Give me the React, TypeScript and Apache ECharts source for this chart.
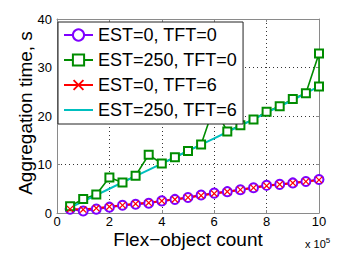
import React, { useEffect, useRef } from "react";
import * as echarts from "echarts";

// x in units of 10^5 flex-objects
const xs = [0.5, 1, 1.5, 2, 2.5, 3, 3.5, 4, 4.5, 5, 5.5, 6, 6.5, 7, 7.5, 8, 8.5, 9, 9.5, 10];
const est0tft0 = [0.8, 0.4, 0.8, 1.2, 1.6, 1.8, 2.0, 2.5, 2.8, 3.2, 3.7, 4.1, 4.4, 4.8, 5.2, 5.7, 5.9, 6.2, 6.5, 6.9];
const est250tft0X = [0.5, 1, 1.5, 2, 2.5, 3, 3.5, 4, 4.5, 5, 5.5, 6, 6.5, 7, 7.5, 8, 8.5, 9, 9.5, 10, 10];
const est250tft0 = [1.4, 2.9, 3.8, 7.3, 6.3, 7.7, 12.0, 10.2, 11.5, 12.8, 14.1, 22.0, 16.8, 18.1, 19.3, 20.9, 22.0, 23.5, 24.7, 32.9, 26.1];
const est0tft6 = [0.8, 0.7, 1.0, 1.3, 1.6, 1.9, 2.1, 2.5, 2.8, 3.2, 3.6, 4.0, 4.4, 4.8, 5.2, 5.6, 5.9, 6.2, 6.5, 6.8];
const est250tft6 = [1.1, 2.4, 3.7, 5.0, 6.3, 7.6, 8.9, 10.2, 11.5, 12.8, 14.1, 15.4, 16.7, 18.0, 19.3, 20.7, 22.0, 23.3, 24.7, 26.1];
const seriesNames = ["EST=0, TFT=0", "EST=250, TFT=0", "EST=0, TFT=6", "EST=250, TFT=6"];
const xTicks = [0, 2, 4, 6, 8, 10];
const yTicks = [0, 10, 20, 30, 40];

const FONT = "'Liberation Sans', Arial, Helvetica, sans-serif";
const FRAME = "#8a8a8a";
const CROSS = "path://M0,1.2L1.2,0L5,3.8L8.8,0L10,1.2L6.2,5L10,8.8L8.8,10L5,6.2L1.2,10L0,8.8L3.8,5Z";

const pairs = (x: number[], y: number[]) => y.map((v, i) => [x[i], v]);

export default function App() {
  const ref = useRef<HTMLDivElement>(null);
  useEffect(() => {
    if (!ref.current) return;
    const chart = echarts.init(ref.current, undefined, { renderer: "svg" });
    const grid = { left: 57, top: 19, width: 262, height: 194 };
    const axisCommon = {
      type: "value" as const,
      axisLine: { show: true, onZero: false, lineStyle: { color: FRAME, width: 1 } },
      axisTick: { show: true, inside: true, length: 3, lineStyle: { color: FRAME } },
    };
    chart.setOption({
      animation: false,
      backgroundColor: "#fff",
      grid,
      xAxis: [
        {
          ...axisCommon,
          min: xTicks[0],
          max: xTicks[xTicks.length - 1],
          interval: 2,
          position: "bottom",
          axisLabel: { color: "#000", fontSize: 13, fontFamily: FONT, margin: 2 },
          splitLine: { show: true, lineStyle: { color: "#333", type: [1, 3], width: 1 } },
        },
        {
          ...axisCommon,
          min: xTicks[0],
          max: xTicks[xTicks.length - 1],
          interval: 2,
          position: "top",
          axisLabel: { show: false },
          splitLine: { show: false },
        },
      ],
      yAxis: [
        {
          ...axisCommon,
          min: yTicks[0],
          max: yTicks[yTicks.length - 1],
          interval: 10,
          position: "left",
          axisLabel: { color: "#000", fontSize: 13, fontFamily: FONT, margin: 5 },
          splitLine: { show: true, lineStyle: { color: "#333", type: [1, 3], width: 1 } },
        },
        {
          ...axisCommon,
          min: yTicks[0],
          max: yTicks[yTicks.length - 1],
          interval: 10,
          position: "right",
          axisLabel: { show: false },
          splitLine: { show: false },
        },
      ],
      legend: {
        left: 58,
        top: 22,
        orient: "vertical",
        backgroundColor: "#fff",
        borderColor: "#222",
        borderWidth: 1,
        borderRadius: 0,
        padding: [4, 6, 5, 5],
        itemGap: 7,
        itemWidth: 29,
        itemHeight: 14,
        textStyle: { fontSize: 18, fontFamily: FONT, color: "#000", lineHeight: 18 },
        data: [
          seriesNames[0],
          seriesNames[1],
          seriesNames[2],
          { name: seriesNames[3], itemStyle: { color: "rgba(0,0,0,0)", borderColor: "rgba(0,0,0,0)", borderWidth: 0 } },
        ],
      },
      series: [
        {
          name: seriesNames[0],
          type: "line",
          data: pairs(xs, est0tft0),
          symbol: "emptyCircle",
          symbolSize: 9,
          color: "#7f00ff",
          lineStyle: { width: 2 },
          itemStyle: { borderWidth: 2 },
        },
        {
          name: seriesNames[1],
          type: "line",
          data: pairs(est250tft0X, est250tft0),
          symbol: "emptyRect",
          symbolSize: 8,
          color: "#008c00",
          lineStyle: { width: 1.6 },
          itemStyle: { borderWidth: 2 },
        },
        {
          name: seriesNames[2],
          type: "line",
          data: pairs(xs, est0tft6),
          symbol: CROSS,
          symbolSize: 7,
          color: "#ff0000",
          lineStyle: { width: 2 },
        },
        {
          name: seriesNames[3],
          type: "line",
          data: pairs(xs, est250tft6),
          symbol: "none",
          color: "#00bfbf",
          lineStyle: { width: 2 },
        },
      ],
      graphic: [
        {
          type: "text",
          x: 188,
          y: 239,
          style: {
            text: "Flex\u2212object count",
            font: `19px ${FONT}`,
            fill: "#000",
            textAlign: "center",
            textVerticalAlign: "middle",
          },
        },
        {
          type: "text",
          x: 25,
          y: 113,
          rotation: Math.PI / 2,
          style: {
            text: "Aggregation time, s",
            font: `19px ${FONT}`,
            fill: "#000",
            textAlign: "center",
            textVerticalAlign: "middle",
          },
        },
        {
          type: "text",
          x: 305,
          y: 244,
          style: {
            text: "{a|x 10}{b|5}",
            textVerticalAlign: "middle",
            rich: {
              a: { fontSize: 11, fontFamily: FONT, fill: "#000", color: "#000" },
              b: { fontSize: 8, fontFamily: FONT, fill: "#000", color: "#000", verticalAlign: "top", padding: [0, 0, 8, 0] },
            },
          },
        },
      ],
    });
    return () => chart.dispose();
  }, []);
  return (
    <div
      ref={ref}
      style={{ position: "fixed", left: 0, top: 0, width: 342, height: 265 }}
    />
  );
}
